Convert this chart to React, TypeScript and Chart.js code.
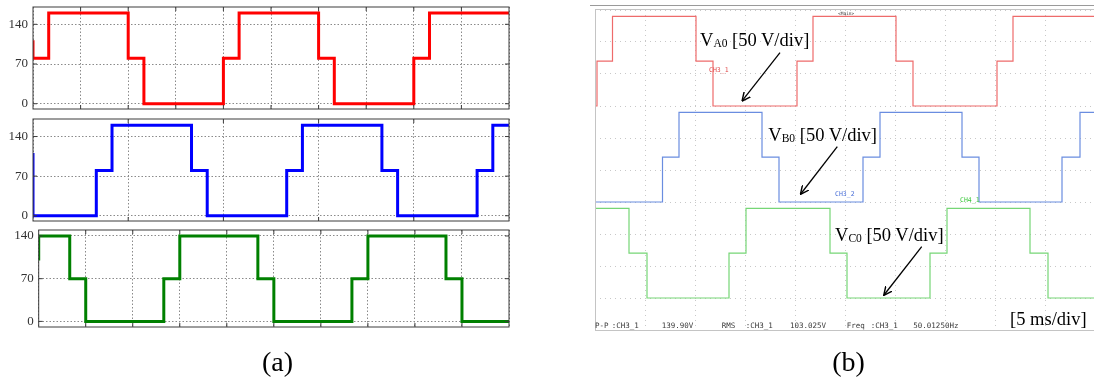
import React, { useEffect, useRef } from "react";
import { Chart, registerables } from "chart.js";
Chart.register(...registerables);

// ---------- Panel (a): simulated pole voltages (x in grid divisions, y in V) ----------
const simTickValues = [0, 70, 140];
const simRedX = [0, 0, 0.33, 2.0, 2.33, 4.0, 4.33, 6.0, 6.33, 8.0, 8.33, 10];
const simRedY = [112, 80, 160, 80, 0, 80, 160, 80, 0, 80, 160, 160];
const simBlueX = [0, 0, 1.33, 1.66, 3.33, 3.66, 5.33, 5.66, 7.33, 7.66, 9.33, 9.66, 10];
const simBlueY = [111, 0, 80, 160, 80, 0, 80, 160, 80, 0, 80, 160, 160];
const simGreenX = [0, 0, 0.66, 1.0, 2.66, 3.0, 4.66, 5.0, 6.66, 7.0, 8.66, 9.0, 10];
const simGreenY = [100, 140, 70, 0, 70, 140, 70, 0, 70, 140, 70, 0, 0];

// ---------- Panel (b): oscilloscope traces (t in ms, v in V) ----------
const scopeRedT = [0, 0.2, 1.75, 10.1, 11.8, 20.2, 21.8, 30.1, 31.8, 40.2, 41.8, 49.9];
const scopeRedV = [0, 70, 140, 70, 0, 70, 140, 70, 0, 70, 140, 140];
const scopeBlueT = [0, 6.75, 8.4, 16.7, 18.4, 26.8, 28.5, 36.7, 38.4, 46.7, 48.5, 49.9];
const scopeBlueV = [0, 70, 140, 70, 0, 70, 140, 70, 0, 70, 140, 140];
const scopeGreenT = [0, 3.4, 5.2, 13.4, 15.1, 23.5, 25.2, 33.5, 35.2, 43.5, 45.3, 49.9];
const scopeGreenV = [140, 70, 0, 70, 140, 70, 0, 70, 140, 70, 0, 0];

const statusTexts = ["P-P", ":CH3_1", "139.90V", "RMS", ":CH3_1", "103.025V", "Freq", ":CH3_1", "50.01250Hz"];
const statusLefts = [595, 611.7, 661.7, 721.7, 745.7, 790, 846.7, 870.7, 913.3];

const SERIF = "'Liberation Serif', 'Times New Roman', serif";
const MONO = "'DejaVu Sans Mono', 'Liberation Mono', monospace";

function toPoints(xs: number[], ys: number[]) {
  return xs.map((x, i) => ({ x, y: ys[i] }));
}

const simFrame = {
  id: "simFrame",
  afterDraw(chart: any) {
    const { ctx, chartArea: a, scales } = chart;
    ctx.save();
    ctx.strokeStyle = "#3c3c3c";
    ctx.lineWidth = 1;
    ctx.strokeRect(a.left, a.top, a.right - a.left, a.bottom - a.top);
    ctx.beginPath();
    const xs = scales.x;
    xs.ticks.forEach((t: any) => {
      const p = xs.getPixelForValue(t.value);
      if (p <= a.left + 1 || p >= a.right - 1) return;
      ctx.moveTo(p, a.bottom);
      ctx.lineTo(p, a.bottom - 4);
      ctx.moveTo(p, a.top);
      ctx.lineTo(p, a.top + 4);
    });
    const ys = scales.y;
    ys.ticks.forEach((t: any) => {
      const p = ys.getPixelForValue(t.value);
      ctx.moveTo(a.left, p);
      ctx.lineTo(a.left + 4, p);
      ctx.moveTo(a.right, p);
      ctx.lineTo(a.right - 4, p);
    });
    ctx.stroke();
    ctx.restore();
  },
};

const scopeFrame = {
  id: "scopeFrame",
  afterDraw(chart: any) {
    const { ctx, chartArea: a, width } = chart;
    ctx.save();
    ctx.strokeStyle = "#9a9a9a";
    ctx.lineWidth = 1.2;
    ctx.beginPath();
    ctx.moveTo(0, 5.5);
    ctx.lineTo(width, 5.5);
    ctx.stroke();
    ctx.strokeStyle = "#c4c4c4";
    ctx.lineWidth = 1;
    ctx.beginPath();
    ctx.moveTo(a.left, 9.5);
    ctx.lineTo(width, 9.5);
    ctx.moveTo(a.left + 0.5, 9.5);
    ctx.lineTo(a.left + 0.5, a.bottom);
    ctx.moveTo(a.left, a.bottom + 0.5);
    ctx.lineTo(width, a.bottom + 0.5);
    ctx.stroke();
    ctx.restore();
  },
};

const simPanels = [
  { xs: simRedX, ys: simRedY, color: "#ff0000", yMin: -9.3, yMax: 170.5, xStep: 1, left: 33, top: 7, right: 509, bottom: 109 },
  { xs: simBlueX, ys: simBlueY, color: "#0000ff", yMin: -9.3, yMax: 171, xStep: 2, left: 33, top: 119, right: 509, bottom: 221 },
  { xs: simGreenX, ys: simGreenY, color: "#008000", yMin: -9.2, yMax: 149.8, xStep: 1, left: 38.7, top: 230, right: 509, bottom: 327 },
];
const SIM_W = 520;
const SIM_PAD = 16;

export default function App() {
  const simRefs = [useRef<HTMLCanvasElement>(null), useRef<HTMLCanvasElement>(null), useRef<HTMLCanvasElement>(null)];
  const scopeRef = useRef<HTMLCanvasElement>(null);

  useEffect(() => {
    const charts: Chart[] = [];
    simPanels.forEach((p, i) => {
      const canvas = simRefs[i].current!;
      const gridDash = [1.5, 2];
      charts.push(
        new Chart(canvas, {
          type: "line",
          data: {
            datasets: [
              {
                data: toPoints(p.xs, p.ys),
                borderColor: p.color,
                borderWidth: 3,
                stepped: "before",
                pointRadius: 0,
                fill: false,
                tension: 0,
              } as any,
            ],
          },
          options: {
            responsive: false,
            animation: false,
            layout: { padding: { left: 0, top: SIM_PAD, right: SIM_W - p.right, bottom: SIM_PAD } },
            plugins: { legend: { display: false }, tooltip: { enabled: false } },
            scales: {
              x: {
                type: "linear",
                min: 0,
                max: 10,
                ticks: { display: false, stepSize: p.xStep },
                grid: { color: "#8a8a8a", lineWidth: 1, drawTicks: false, borderDash: gridDash } as any,
                border: { display: false, dash: gridDash },
                afterFit: (s: any) => {
                  s.height = 0;
                },
              },
              y: {
                type: "linear",
                min: p.yMin,
                max: p.yMax,
                afterBuildTicks: (s: any) => {
                  s.ticks = simTickValues.map((v) => ({ value: v }));
                },
                ticks: { color: "#333", font: { family: SERIF, size: 13 }, padding: 5 },
                grid: { color: "#8a8a8a", lineWidth: 1, drawTicks: false, borderDash: gridDash } as any,
                border: { display: false, dash: gridDash },
                afterFit: (s: any) => {
                  s.width = p.left;
                },
              },
            },
          } as any,
          plugins: [simFrame],
        })
      );
    });

    const scopeDash = [1, 4];
    charts.push(
      new Chart(scopeRef.current!, {
        type: "line",
        data: {
          datasets: [
            { data: toPoints(scopeRedT, scopeRedV), borderColor: "#ee6b6b", yAxisID: "y" },
            { data: toPoints(scopeBlueT, scopeBlueV), borderColor: "#6a8de0", yAxisID: "yB" },
            { data: toPoints(scopeGreenT, scopeGreenV), borderColor: "#76d676", yAxisID: "yC" },
          ].map((d) => ({ ...d, borderWidth: 1.2, stepped: "before", pointRadius: 0, fill: false, tension: 0 })) as any,
        },
        options: {
          responsive: false,
          animation: false,
          layout: { padding: { left: 5, top: 10, right: 0, bottom: 15 } },
          plugins: { legend: { display: false }, tooltip: { enabled: false } },
          scales: {
            x: {
              type: "linear",
              min: 0,
              max: 49.9,
              ticks: { display: false, stepSize: 5 },
              grid: {
                color: (c: any) => (c.tick && Math.abs(c.tick.value % 5) > 0.01 ? "rgba(0,0,0,0)" : "#c8c8c8"),
                drawTicks: false,
                borderDash: scopeDash,
              } as any,
              border: { display: false, dash: scopeDash },
              afterFit: (s: any) => {
                s.height = 0;
              },
            },
            y: {
              type: "linear",
              min: -350,
              max: 150,
              ticks: { display: false, stepSize: 50 },
              grid: { color: "#c8c8c8", drawTicks: false, borderDash: scopeDash } as any,
              border: { display: false, dash: scopeDash },
              afterFit: (s: any) => {
                s.width = 0;
              },
            },
            yB: { type: "linear", display: false, min: -200, max: 300 },
            yC: { type: "linear", display: false, min: -50, max: 450 },
          },
        } as any,
        plugins: [scopeFrame],
      })
    );

    return () => charts.forEach((c) => c.destroy());
  }, []);

  const ann: React.CSSProperties = {
    position: "absolute",
    fontFamily: SERIF,
    fontSize: 18.5,
    lineHeight: "19px",
    color: "#000",
    whiteSpace: "nowrap",
  };
  const sub: React.CSSProperties = { fontSize: 11.5, position: "relative", top: 1 };
  const mono = (size: number, color: string): React.CSSProperties => ({
    position: "absolute",
    fontFamily: MONO,
    fontSize: size,
    lineHeight: `${size + 1}px`,
    color,
    whiteSpace: "nowrap",
  });

  return (
    <div style={{ position: "fixed", left: 0, top: 0, width: 1094, height: 383, background: "#fff", overflow: "hidden" }}>
      {simPanels.map((p, i) => (
        <canvas
          key={i}
          ref={simRefs[i]}
          width={SIM_W}
          height={p.bottom - p.top + 2 * SIM_PAD}
          style={{ position: "absolute", left: 0, top: p.top - SIM_PAD, width: SIM_W, height: p.bottom - p.top + 2 * SIM_PAD }}
        />
      ))}
      <canvas ref={scopeRef} width={504} height={345} style={{ position: "absolute", left: 590, top: 0, width: 504, height: 345 }} />

      <svg width={1094} height={383} style={{ position: "absolute", left: 0, top: 0, pointerEvents: "none" }}>
        <defs>
          <marker id="ah" viewBox="0 0 10 10" refX="9" refY="5" markerWidth="9" markerHeight="9" markerUnits="userSpaceOnUse" orient="auto">
            <path d="M0,0.5 L9.5,5 L0,9.5" fill="none" stroke="#000" strokeWidth="1.6" />
          </marker>
        </defs>
        <line x1={780} y1={52.7} x2={742.3} y2={100.7} stroke="#000" strokeWidth={1.3} markerEnd="url(#ah)" />
        <line x1={837.3} y1={146.7} x2={800.7} y2={194} stroke="#000" strokeWidth={1.3} markerEnd="url(#ah)" />
        <line x1={921.7} y1={246.7} x2={884} y2={295} stroke="#000" strokeWidth={1.3} markerEnd="url(#ah)" />
      </svg>

      <div style={{ ...ann, left: 700, top: 31 }}>
        V<span style={sub}>A0</span> [50 V/div]
      </div>
      <div style={{ ...ann, left: 768.3, top: 126 }}>
        V<span style={sub}>B0</span> [50 V/div]
      </div>
      <div style={{ ...ann, left: 835, top: 226 }}>
        V<span style={sub}>C0</span> [50 V/div]
      </div>
      <div style={{ ...ann, left: 1010, top: 309.5 }}>[5 ms/div]</div>

      <div style={{ ...mono(6.5, "#e04848"), left: 709, top: 67 }}>CH3_1</div>
      <div style={{ ...mono(6.5, "#4a6fd8"), left: 835, top: 190.5 }}>CH3_2</div>
      <div style={{ ...mono(6.5, "#3cc83c"), left: 960, top: 197 }}>CH4_1</div>
      <div style={{ ...mono(4.5, "#333"), left: 838, top: 11 }}>&lt;Main&gt;</div>

      {statusTexts.map((t, i) => (
        <div key={i} style={{ ...mono(7.5, "#3a3a3a"), left: statusLefts[i], top: 322.4 }}>
          {t}
        </div>
      ))}

      <div style={{ position: "absolute", left: 277.5, top: 348, transform: "translateX(-50%)", fontFamily: SERIF, fontSize: 28, lineHeight: "28px", color: "#000" }}>(a)</div>
      <div style={{ position: "absolute", left: 848.5, top: 348, transform: "translateX(-50%)", fontFamily: SERIF, fontSize: 28, lineHeight: "28px", color: "#000" }}>(b)</div>
    </div>
  );
}
